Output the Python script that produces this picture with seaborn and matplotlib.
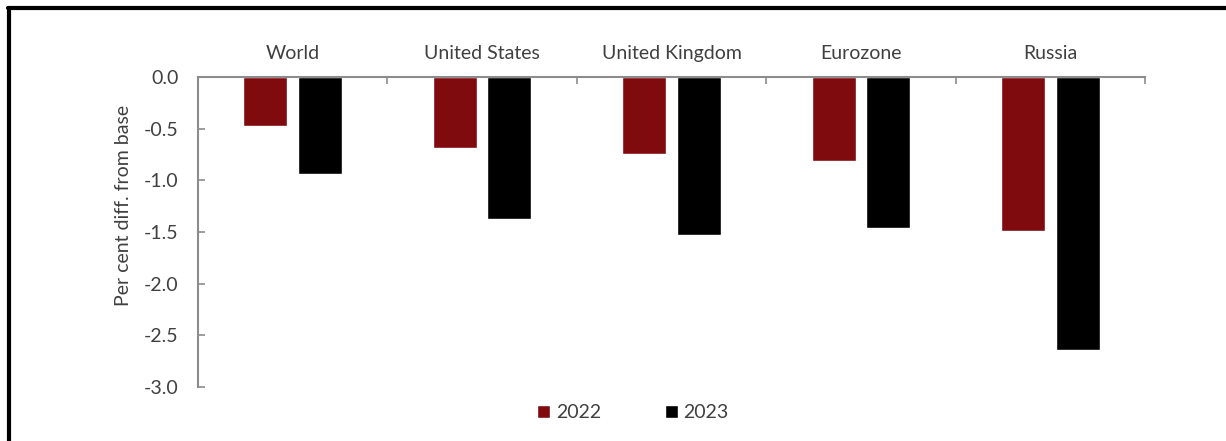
import matplotlib
matplotlib.use("Agg")
import matplotlib.pyplot as plt
import seaborn as sns
import pandas as pd
import numpy as np
from matplotlib.lines import Line2D
from matplotlib.patches import Patch

regions = ["World", "United States", "United Kingdom", "Eurozone", "Russia"]
years = ["2022", "2023"]
vals_2022 = [-0.47, -0.69, -0.75, -0.81, -1.49]
vals_2023 = [-0.94, -1.37, -1.53, -1.46, -2.64]
yticks = [0.0, -0.5, -1.0, -1.5, -2.0, -2.5, -3.0]
colors = {"2022": "#7f0b0e", "2023": "#000000"}

df = pd.DataFrame({
    "region": regions * 2,
    "year": ["2022"] * len(regions) + ["2023"] * len(regions),
    "value": vals_2022 + vals_2023,
})

sns.set_style("white")
plt.rcParams["font.family"] = ["Lato", "DejaVu Sans"]
text_col = "#404040"
axis_col = "#8c8c8c"
fs = 14

fig = plt.figure(figsize=(12.26, 4.41), dpi=100)
ax = fig.add_axes([198/1226, 1 - 387/441, (1145-198)/1226, (387-77)/441])

sns.barplot(data=df, x="region", y="value", hue="year", order=regions,
            hue_order=years, palette=colors, width=0.576, gap=0.194,
            ax=ax, legend=False, saturation=1)

ax.set_ylim(-3.0, 0.0)
ax.set_xlim(-0.5, len(regions) - 0.5)
ax.set_yticks(yticks)
ax.set_yticklabels([f"{t:.1f}" for t in yticks], fontsize=fs, color=text_col)
ax.set_ylabel("Per cent diff. from base", fontsize=fs, color=text_col)
ax.yaxis.set_label_coords(-0.0697, 1 - (205 - 77) / 310)
ax.set_xlabel("")

ax.xaxis.tick_top()
ax.set_xticks(range(len(regions)))
ax.set_xticklabels(regions, fontsize=fs, color=text_col)
ax.tick_params(axis="x", which="major", length=0, pad=11)
ax.set_xticks(np.arange(-0.5, len(regions) + 0.5, 1.0), minor=True)
ax.tick_params(axis="x", which="minor", top=True, bottom=False, direction="in",
               length=5, color=axis_col, width=1.2)
ax.tick_params(axis="y", direction="in", length=5, color=axis_col, width=1.2,
               left=True, pad=14)

for s in ["right", "bottom"]:
    ax.spines[s].set_visible(False)
for s in ["left", "top"]:
    ax.spines[s].set_color(axis_col)
    ax.spines[s].set_linewidth(1.5)
ax.grid(False)

handles = [Patch(facecolor=colors[y], label=y) for y in years]
leg = fig.legend(handles=handles, loc="center", bbox_to_anchor=(633/1226, 1 - 413/441),
                 ncol=2, frameon=False, fontsize=fs, handlelength=0.65,
                 handleheight=0.65, handletextpad=0.3, columnspacing=3.3)
for t in leg.get_texts():
    t.set_color(text_col)

# outer frame (left and top edges)
fig.add_artist(Line2D([9/1226, 9/1226], [0, 1 - 8/441], transform=fig.transFigure,
                      color="black", linewidth=3))
fig.add_artist(Line2D([8/1226, 1], [1 - 8/441, 1 - 8/441], transform=fig.transFigure,
                      color="black", linewidth=3))

fig.savefig("out.png", dpi=100, facecolor="white")
